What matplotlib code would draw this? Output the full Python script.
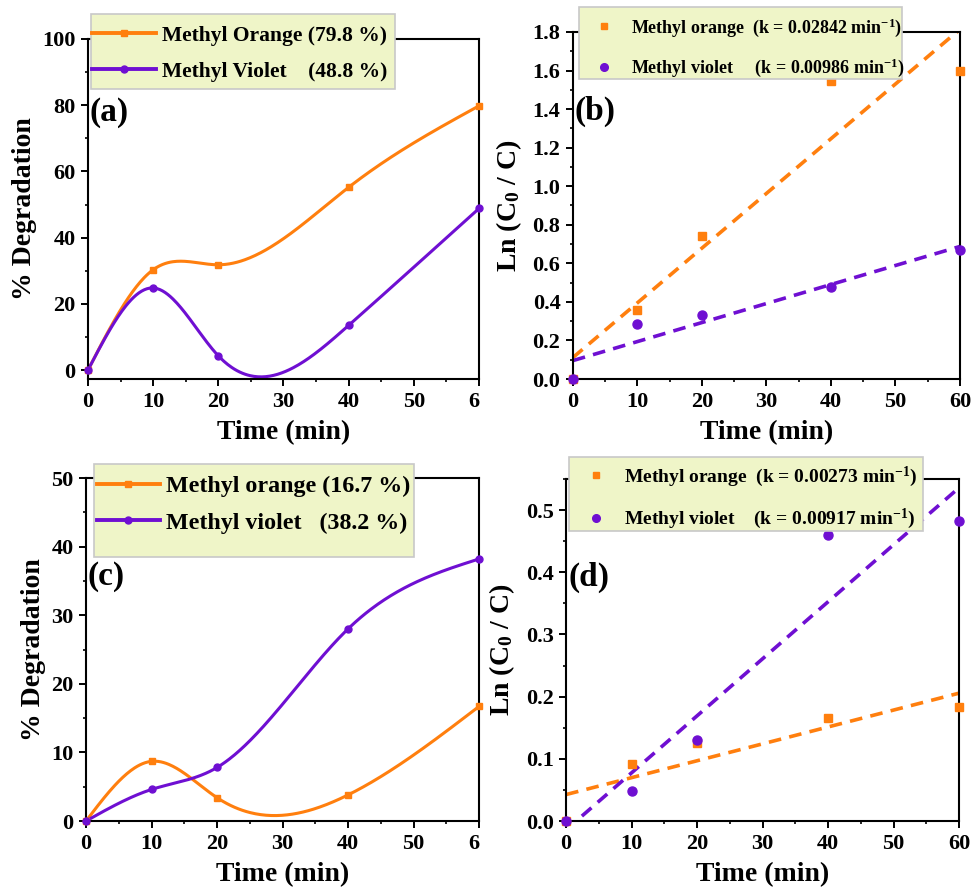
import numpy as np
import matplotlib
matplotlib.use("Agg")
import matplotlib.pyplot as plt
from matplotlib.ticker import MultipleLocator, FormatStrFormatter
from matplotlib.lines import Line2D
from matplotlib.patches import Rectangle
from matplotlib.transforms import Bbox

plt.rcParams['font.family'] = ['Liberation Serif', 'DejaVu Serif']
plt.rcParams['font.weight'] = 'bold'
plt.rcParams['mathtext.fontset'] = 'custom'
plt.rcParams['mathtext.rm'] = 'Liberation Serif:bold'
plt.rcParams['mathtext.it'] = 'Liberation Serif:bold'
plt.rcParams['mathtext.bf'] = 'Liberation Serif:bold'

# ---------------- data ----------------
time = [0, 10, 20, 40, 60]

# (a) % degradation
a_mo = [0, 30.3, 31.8, 55.2, 79.8]
a_mv = [0, 24.8, 4.3, 13.5, 48.8]
# (b) ln(C0/C)
b_mo = [0, 0.36, 0.74, 1.545, 1.60]
b_mv = [0, 0.285, 0.33, 0.475, 0.67]
# (c) % degradation
c_mo = [0, 8.7, 3.4, 3.8, 16.7]
c_mv = [0, 4.6, 7.8, 28.0, 38.2]
# (d) ln(C0/C)
d_mo = [0, 0.092, 0.126, 0.165, 0.183]
d_mv = [0, 0.048, 0.131, 0.46, 0.482]

a_labels = ['Methyl Orange (79.8 %)', 'Methyl Violet    (48.8 %)']
b_labels = ['Methyl orange  (k = 0.02842 min$^{-1}$)',
            'Methyl violet     (k = 0.00986 min$^{-1}$)']
c_labels = ['Methyl orange (16.7 %)', 'Methyl violet   (38.2 %)']
d_labels = ['Methyl orange  (k = 0.00273 min$^{-1}$)',
            'Methyl violet    (k = 0.00917 min$^{-1}$)']

ORANGE = '#FF7F0E'
PURPLE = '#6F0FD2'
LEG_BG = '#EFF5C8'
LEG_EDGE = '#C8C8C8'


def natural_spline(x, y, n=300):
    x = np.asarray(x, float)
    y = np.asarray(y, float)
    m = len(x)
    h = np.diff(x)
    A = np.zeros((m, m))
    r = np.zeros(m)
    A[0, 0] = 1
    A[-1, -1] = 1
    for i in range(1, m - 1):
        A[i, i - 1] = h[i - 1]
        A[i, i] = 2 * (h[i - 1] + h[i])
        A[i, i + 1] = h[i]
        r[i] = 3 * ((y[i + 1] - y[i]) / h[i] - (y[i] - y[i - 1]) / h[i - 1])
    c = np.linalg.solve(A, r)
    b = np.diff(y) / h - h * (2 * c[:-1] + c[1:]) / 3
    d = np.diff(c) / (3 * h)
    xs = np.linspace(x[0], x[-1], n)
    idx = np.clip(np.searchsorted(x, xs) - 1, 0, m - 2)
    dx = xs - x[idx]
    ys = y[idx] + b[idx] * dx + c[idx] * dx ** 2 + d[idx] * dx ** 3
    return xs, ys


fig = plt.figure(figsize=(9.71, 8.96), dpi=100)

axa = fig.add_axes([0.0906, 0.577, 0.4027, 0.3795])
axb = fig.add_axes([0.590, 0.577, 0.3986, 0.3873])
axc = fig.add_axes([0.0886, 0.0837, 0.4047, 0.3828])
axd = fig.add_axes([0.583, 0.0837, 0.4047, 0.3817])


def style(ax, ymaj, ymin):
    ax.set_xlim(0, 60)
    ax.xaxis.set_major_locator(MultipleLocator(10))
    ax.xaxis.set_minor_locator(MultipleLocator(5))
    ax.yaxis.set_major_locator(MultipleLocator(ymaj))
    ax.yaxis.set_minor_locator(MultipleLocator(ymin))
    ax.tick_params(which='major', direction='out', length=5, width=1.4,
                   labelsize=16, pad=4)
    ax.tick_params(which='minor', direction='out', length=2.5, width=1.2)
    for s in ax.spines.values():
        s.set_linewidth(1.5)
    ax.set_xlabel('Time (min)', fontsize=20, fontweight='bold', labelpad=6)


def legend_box(ax, box, handles, labels, anchor, fs, hl, htp, lsp, msc=1.0):
    x0, x1, y0, y1 = box
    ax.add_patch(Rectangle((x0, y0), x1 - x0, y1 - y0, transform=ax.transAxes,
                           facecolor=LEG_BG, edgecolor=LEG_EDGE, lw=1.2,
                           clip_on=False, zorder=4))
    leg = ax.legend(handles, labels, loc='center left', bbox_to_anchor=anchor,
                    fontsize=fs, frameon=False, handlelength=hl,
                    handletextpad=htp, borderpad=0, labelspacing=lsp,
                    borderaxespad=0, markerscale=msc)
    leg.set_zorder(5)
    for t in leg.get_texts():
        t.set_fontweight('bold')


def deg_panel(ax, mo, mv, labels, box, anchor, tag, tagpos, fs, hl, lsp):
    for vals, col, mk in ((mo, ORANGE, 's'), (mv, PURPLE, 'o')):
        xs, ys = natural_spline(time, vals)
        ax.plot(xs, ys, color=col, lw=2.2, clip_on=False, zorder=2)
        ax.plot(time, vals, mk, color=col, markersize=5, clip_on=False,
                zorder=3)
    handles = [Line2D([], [], color=ORANGE, lw=2.8, marker='s', markersize=5),
               Line2D([], [], color=PURPLE, lw=2.8, marker='o', markersize=5)]
    ax.set_ylabel('% Degradation', fontsize=20, fontweight='bold', labelpad=4)
    legend_box(ax, box, handles, labels, anchor, fs, hl, 0.25, lsp)
    ax.text(tagpos[0], tagpos[1], tag, transform=ax.transAxes, fontsize=24,
            fontweight='bold', va='center', ha='left', zorder=6)


def kin_panel(ax, mo, mv, labels, box, anchor, tag, tagpos, fs, htp, lsp):
    t = np.array(time, float)
    ax.plot(time, mo, 's', color=ORANGE, markersize=6, clip_on=False, zorder=3)
    ax.plot(time, mv, 'o', color=PURPLE, markersize=6.5, clip_on=False,
            zorder=3)
    tt = np.linspace(0, 60, 200)
    p = np.polyfit(t, mo, 1)
    ax.plot(tt, np.polyval(p, tt), color=ORANGE, lw=2.6, dashes=(3.5, 2.3))
    p = np.polyfit(t, mv, 1)
    ax.plot(tt, np.polyval(p, tt), color=PURPLE, lw=2.6, dashes=(3.5, 2.3))
    ax.set_ylabel('Ln (C$_{\\rm 0}$ / C)', fontsize=20, fontweight='bold',
                  labelpad=6)
    handles = [Line2D([], [], ls='none', color=ORANGE, marker='s',
                      markersize=5),
               Line2D([], [], ls='none', color=PURPLE, marker='o',
                      markersize=5.5)]
    legend_box(ax, box, handles, labels, anchor, fs, 1.6, htp, lsp)
    ax.text(tagpos[0], tagpos[1], tag, transform=ax.transAxes, fontsize=24,
            fontweight='bold', va='center', ha='left', zorder=6)


style(axa, 20, 10)
axa.set_ylim(-2.7, 100)
deg_panel(axa, a_mo, a_mv, a_labels, (0.008, 0.785, 0.853, 1.074),
          (0.010, 0.956), '(a)', (0.005, 0.785), 15.5, 3.0, 0.74)

style(axb, 0.2, 0.1)
axb.set_ylim(0, 1.8)
axb.yaxis.set_major_formatter(FormatStrFormatter('%.1f'))
kin_panel(axb, b_mo, b_mv, b_labels, (0.0155, 0.850, 0.8646, 1.072),
          (0.044, 0.955), '(b)', (0.005, 0.77), 13, 0.7, 1.0)

style(axc, 10, 5)
axc.set_ylim(0, 50)
deg_panel(axc, c_mo, c_mv, c_labels, (0.020, 0.835, 0.770, 1.041),
          (0.028, 0.923), '(c)', (0.003, 0.714), 17.3, 2.6, 0.62)

style(axd, 0.1, 0.05)
axd.set_ylim(0, 0.55)
axd.yaxis.set_major_formatter(FormatStrFormatter('%.1f'))
kin_panel(axd, d_mo, d_mv, d_labels, (0.0076, 0.908, 0.848, 1.064),
          (0.036, 0.944), '(d)', (0.005, 0.713), 14, 0.67, 0.92)

for ax in (axa, axb, axc, axd):
    for lab in ax.get_xticklabels() + ax.get_yticklabels():
        lab.set_fontweight('bold')

# the left panels' last x tick label is cut at the panel boundary
clipbox = Bbox([[0, 0], [480, 896]])
for ax in (axa, axc):
    for tk in ax.xaxis.get_major_ticks():
        tk.label1.set_clip_box(clipbox)
        tk.label1.set_clip_on(True)

fig.savefig('out.png', dpi=100)
